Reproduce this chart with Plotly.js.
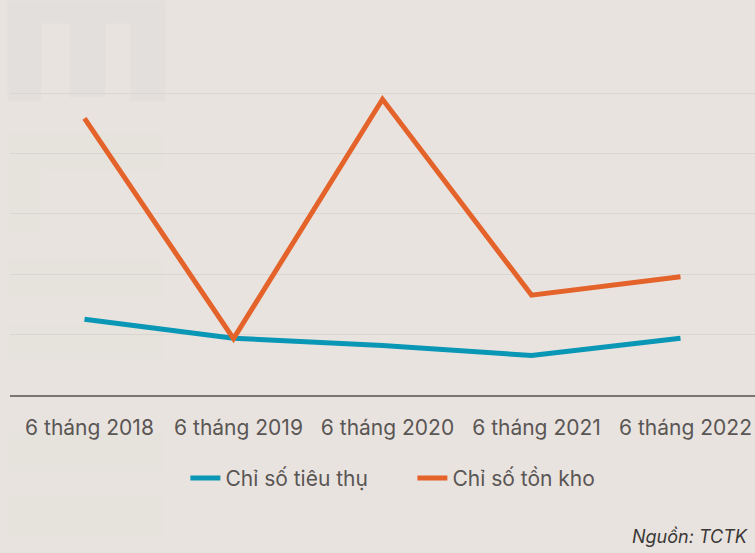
<!DOCTYPE html>
<html>
<head>
<meta charset="utf-8">
<script src="https://cdn.plot.ly/plotly-3.0.1.min.js"></script>
<style>html,body{margin:0;padding:0;background:#e9e3e0;}#chart{width:755px;height:553px;}</style>
</head>
<body>
<div id="chart"></div>
<script>
const categories = ["6 tháng 2018", "6 tháng 2019", "6 tháng 2020", "6 tháng 2021", "6 tháng 2022"];
const seriesNames = ["Chỉ số tiêu thụ", "Chỉ số tồn kho"];
const consumption = [25.1, 18.8, 16.4, 13.1, 18.8];
const inventory = [91.7, 18.7, 98.0, 33.1, 39.2];
const sourceText = "Nguồn: TCTK";

const W = 755, H = 553;
const ml = 9.5, mr = 0, mt = 47.6, mb = 157.5;
const pw = W - ml - mr, ph = H - mt - mb;
function px(x){ return (x - ml) / pw; }
function py(y){ return (H - mb - y) / ph; }
function rect(x0,y0,x1,y1,color){
  return {type:'rect', xref:'paper', yref:'paper', x0:px(x0), x1:px(x1), y0:py(y1), y1:py(y0),
          fillcolor:color, line:{width:0}, layer:'below'};
}
const gray = '#e2dfdc', beige = '#e6e3dc';
const shapes = [
  rect(7,0,165,23,gray), rect(7,23,41,101,gray), rect(69,23,105,97,gray), rect(130,23,165,101,gray),
  rect(7,130,165,170,beige), rect(7,170,41,232,beige),
  rect(7,258,165,298,beige), rect(7,323,165,360,beige),
  rect(7,433,165,472,beige), rect(7,497,165,537,beige)
];

const traces = [
  {x: categories, y: consumption, name: seriesNames[0], type:'scatter', mode:'lines',
   line:{color:'#0a97b5', width:5}},
  {x: categories, y: inventory, name: seriesNames[1], type:'scatter', mode:'lines',
   line:{color:'#e4632a', width:5}}
];

const layout = {
  width: W, height: H,
  margin: {l: ml, r: mr, t: mt, b: mb, pad: 0},
  paper_bgcolor: '#e9e3e0', plot_bgcolor: 'rgba(0,0,0,0)',
  font: {family: 'Inter, "Open Sans", sans-serif', color: '#5a5654', size: 21},
  showlegend: true,
  legend: {orientation:'h', x:px(185), xanchor:'left', y:py(479), yanchor:'middle',
           entrywidth:182, entrywidthmode:'pixels',
           font:{size:21, color:'#5a5654'}, bgcolor:'rgba(0,0,0,0)', itemwidth:30, traceorder:'normal'},
  xaxis: {type:'category', range:[-0.5, 4.5], showgrid:false, zeroline:false,
          showline:true, linecolor:'#7a7674', linewidth:1.5, ticks:'', ticklabelstandoff:13,
          ticklabelshift:5,
          tickfont:{size:21, color:'#5a5654'}, fixedrange:true},
  yaxis: {range:[0, 115], dtick:20, tick0:0, showgrid:true, gridcolor:'#dcd6d3', gridwidth:1,
          zeroline:false, showticklabels:false, showline:false, ticks:'', fixedrange:true},
  shapes: shapes,
  annotations: [
    {text: sourceText, xref:'paper', yref:'paper', x:px(750), y:py(537), xanchor:'right', yanchor:'middle',
     showarrow:false, font:{size:18, color:'#3a3836', family:'Inter, "Open Sans", sans-serif', style:'italic'}}
  ]
};
Plotly.newPlot('chart', traces, layout, {displayModeBar:false, staticPlot:true});
</script>
</body>
</html>
